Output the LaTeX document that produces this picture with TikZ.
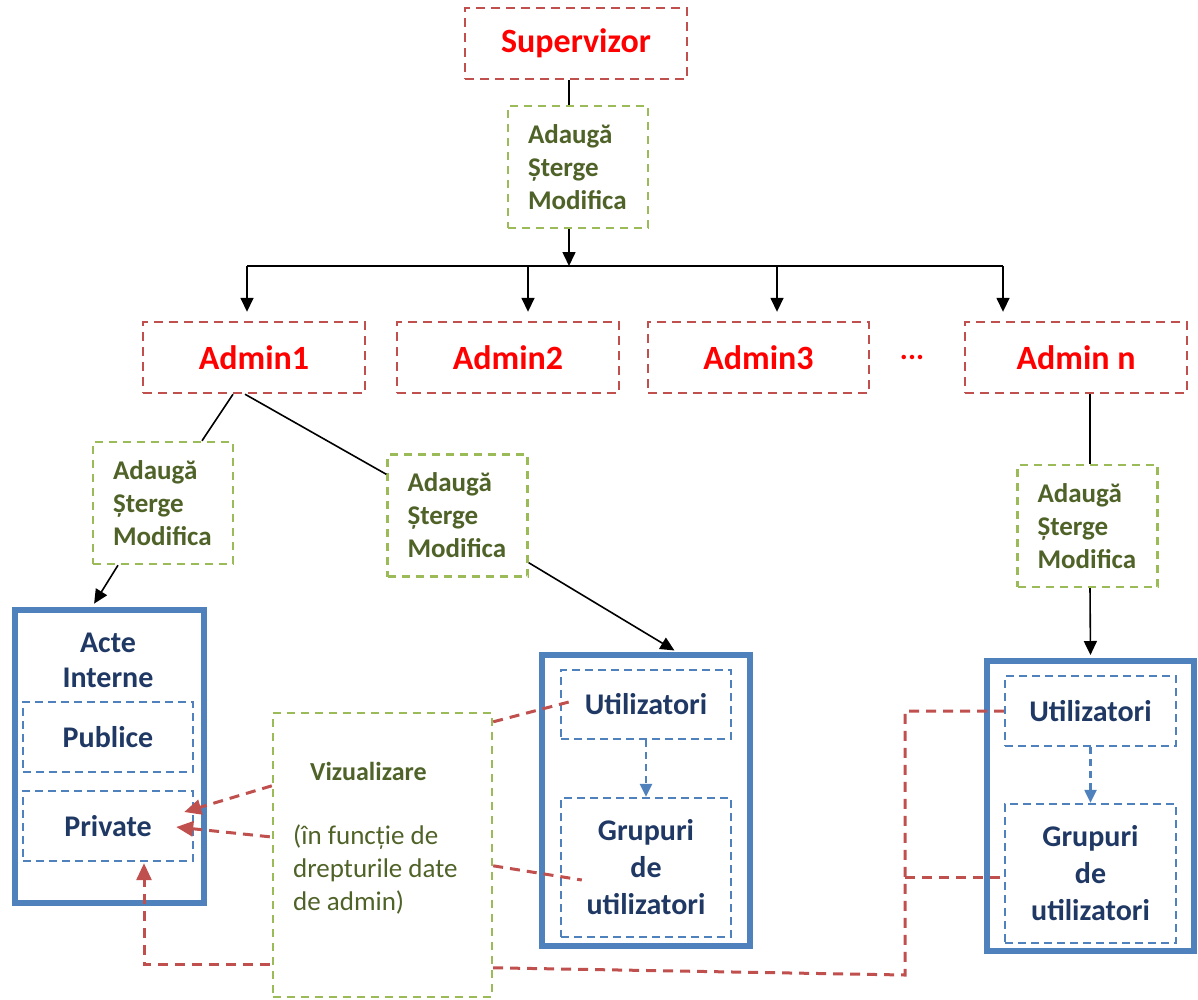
\documentclass[tikz,border=0pt]{standalone}
\usepackage{fontspec}
\setmainfont{Carlito}
\usetikzlibrary{arrows.meta,calc}
\definecolor{redtxt}{HTML}{FF0000}
\definecolor{redln}{HTML}{C0504D}
\definecolor{grnln}{HTML}{9BBB59}
\definecolor{olivetxt}{HTML}{4F6228}
\definecolor{navytxt}{HTML}{1F3864}
\definecolor{blueln}{HTML}{4F81BD}
\begin{document}
\begin{tikzpicture}[x=1pt,y=-1pt,
  redbox/.style={draw=redln,line width=2.4pt,dash pattern=on 9pt off 6pt,minimum width=222pt,minimum height=71pt,inner sep=0pt,text=redtxt,font=\fontsize{34}{40}\selectfont\bfseries},
  grnbox/.style={draw=grnln,line width=2.4pt,dash pattern=on 8pt off 6pt,text=olivetxt,font=\fontsize{27}{33}\selectfont\bfseries,align=left,text width=100pt,inner xsep=20pt,inner ysep=0pt,minimum height=122pt},
  bigbox/.style={draw=blueln,line width=6pt,inner sep=0pt},
  bluebox/.style={draw=blueln,line width=2.4pt,dash pattern=on 8pt off 5pt,text=navytxt,font=\fontsize{30}{37}\selectfont\bfseries,align=center,inner sep=0pt,minimum width=170pt},
  conn/.style={black,line width=1.6pt},
  arr/.style={conn,-{Triangle[length=14pt,width=13pt]}},
  redconn/.style={draw=redln,line width=3pt,dash pattern=on 10pt off 7pt},
  redarr/.style={redconn,-{Triangle[length=17pt,width=15pt,fill=redln]}},
  bluearr/.style={draw=blueln,line width=2.4pt,dash pattern=on 7pt off 5pt,-{Triangle[length=13pt,width=12pt,fill=blueln]}},
]
\useasboundingbox (0,0) rectangle (1198,999);

% top
\node[redbox] (sup) at (576,43.5) {Supervizor};
\node[grnbox] (g0) at (578,167) {Adaugă\\Șterge\\Modifica};
\draw[conn] ([xshift=-7pt]sup.south) -- ([xshift=-9pt]g0.north);

% admins
\node[redbox] (a1) at (254,357.5) {Admin1};
\node[redbox] (a2) at (508,357.5) {Admin2};
\node[redbox,minimum width=221pt] (a3) at (758.5,357.5) {Admin3};
\node[redbox] (an) at (1076,357.5) {Admin n};
\node[text=redtxt,font=\fontsize{30}{36}\selectfont\bfseries,inner sep=0pt] (dots) at (912,357) {...};

% bus
\coordinate (bus) at (569,266);
\coordinate (b1) at (247,266);
\coordinate (b2) at (528,266);
\coordinate (b3) at (777,266);
\coordinate (b4) at (1003,266);
\draw[arr] ([xshift=-9pt]g0.south) -- (bus);
\draw[conn] (b1) -- (b4);
\draw[arr,shorten >=9pt] (b1) -- (b1 |- a1.north);
\draw[arr,shorten >=9pt] (b2) -- (b2 |- a2.north);
\draw[arr,shorten >=9pt] (b3) -- (b3 |- a3.north);
\draw[arr,shorten >=9pt] (b4) -- (b4 |- an.north);

% green boxes under admins
\node[grnbox] (g1) at (163,503) {Adaugă\\Șterge\\Modifica};
\node[grnbox] (g2) at (457.5,515.5) {Adaugă\\Șterge\\Modifica};
\node[grnbox] (gn) at (1087.5,526) {Adaugă\\Șterge\\Modifica};
\draw[conn] ($(a1.south)+(-21,0)$) -- ($(g1.north)+(39,0)$);
\draw[conn] ($(a1.south)+(-9,0)$) -- ($(g2.north west)+(0,21)$);
\draw[conn] ($(an.south)+(14,0)$) -- ($(gn.north)+(2.5,0)$);

% big blue boxes
\node[bigbox,minimum width=189pt,minimum height=293pt] (acte) at (109.5,756.5) {};
\node[bigbox,minimum width=208pt,minimum height=291pt] (mid) at (646,800.5) {};
\node[bigbox,minimum width=207pt,minimum height=290pt] (rgt) at (1090.5,806) {};

\draw[arr,shorten >=4pt] ($(g1.south)+(-45,0)$) -- ($(acte.north)+(-17.5,0)$);
\draw[arr,shorten >=3pt] ($(g2.south east)+(0,-15)$) -- ($(mid.north)+(31,0)$);
\draw[arr,shorten >=3pt] ($(gn.south)+(2.5,0)$) -- (rgt.north);

% acte content
\node[text=navytxt,font=\fontsize{30}{35}\selectfont\bfseries,align=center,inner sep=0pt] (acteT) at (108,660) {Acte\\Interne};
\node[bluebox,minimum height=70pt] (pub) at (108,737) {Publice};
\node[bluebox,minimum height=70pt] (priv) at (108,826) {Private};

% middle content
\node[bluebox,minimum height=69pt] (utilM) at (646,704.5) {Utilizatori};
\node[bluebox,minimum height=139pt] (grupM) at (646,867.5) {Grupuri\\de\\utilizatori};
\draw[bluearr] (utilM.south) -- (grupM.north);

% right content
\node[bluebox,minimum width=171pt,minimum height=70pt] (utilR) at (1090.5,711) {Utilizatori};
\node[bluebox,minimum width=171pt,minimum height=139pt] (grupR) at (1090.5,873.5) {Grupuri\\de\\utilizatori};
\draw[bluearr] (utilR.south) -- (grupR.north);

% vizualizare
\node[draw=grnln,line width=2.4pt,dash pattern=on 8pt off 6pt,minimum width=219pt,minimum height=284pt,inner sep=0pt] (viz) at (382.5,855) {};
\node[anchor=west,inner sep=0pt,text=olivetxt,font=\fontsize{26}{31}\selectfont\bfseries] (vizT) at (310,771) {Vizualizare};
\node[anchor=west,inner sep=0pt,text=olivetxt,font=\fontsize{27}{33}\selectfont,align=left] (vizP) at (293,869) {(în funcție de\\drepturile date\\de admin)};

% red connectors
\draw[redarr] ($(viz.north west)+(0,74)$) -- ($(priv.east)+(-10,-14)$);
\draw[redarr] ($(viz.north west)+(-2,125)$) -- ($(priv.east)+(-18,1)$);
\draw[redarr] ($(viz.north west)+(-2,253)$) -| ($(priv.south)+(36,1)$);
\draw[redconn] ($(viz.north east)+(0,10)$) -- ($(utilM.west)+(9,-2.5)$);
\draw[redconn] ($(viz.north east)+(0,154)$) -- ($(grupM.west)+(22,12.5)$);
\coordinate (jb) at (905,975);
\coordinate (jn) at (905,877);
\draw[redconn] ($(viz.north east)+(0,256)$) -- (jb) -- (jb |- utilR.west) -- (utilR.west);
\draw[redconn] (jn) -- (jn -| grupR.west);
\end{tikzpicture}
\end{document}
